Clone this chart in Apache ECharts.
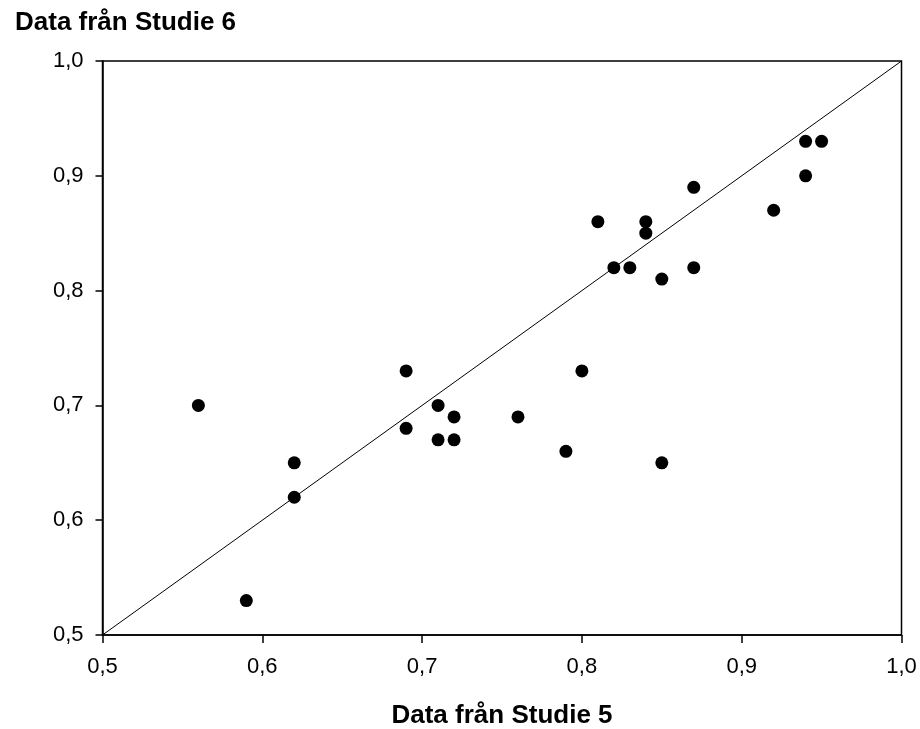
<!DOCTYPE html>
<html>
<head>
<meta charset="utf-8">
<script src="https://cdn.jsdelivr.net/npm/echarts@6/dist/echarts.min.js"></script>
<style>
html,body{margin:0;padding:0;background:#fff;}
#chart{width:920px;height:729px;}
</style>
</head>
<body>
<div id="chart"></div>
<script>
// Studie 5 (x) vs Studie 6 (y)
var studie5=[0.56,0.59,0.62,0.62,0.69,0.69,0.71,0.71,0.72,0.72,0.76,0.79,0.80,0.81,0.82,0.83,0.84,0.84,0.85,0.85,0.87,0.87,0.92,0.94,0.94,0.95];
var studie6=[0.70,0.53,0.65,0.62,0.73,0.68,0.70,0.67,0.69,0.67,0.69,0.66,0.73,0.86,0.82,0.82,0.86,0.85,0.81,0.65,0.89,0.82,0.87,0.93,0.90,0.93];
var diagonal=[[0.5,0.5],[1.0,1.0]];
var xTitle='Data från Studie 5';
var yTitle='Data från Studie 6';

var points=[];
for(var i=0;i<studie5.length;i++){
    points.push([studie5[i],studie6[i]]);
}
function fmt(v){
    return v.toFixed(1).replace('.',',');
}
var font='Liberation Sans, Arial, sans-serif';
var myChart=echarts.init(document.getElementById('chart'));
var option={
    backgroundColor:'#fff',
    animation:false,
    title:{
        text:yTitle,
        left:10,
        top:5,
        textStyle:{
            fontFamily:font,
            fontWeight:'bold',
            fontSize:26,
            color:'#000'
        }
    },
    grid:{
        left:102.5,right:18.5,top:61,bottom:94,
        outerBoundsMode:'none',
        containLabel:false,
        show:true,borderColor:'#000',borderWidth:1.5,backgroundColor:'transparent'
    },
    xAxis:{
        type:'value',
        min:0.5,max:1.0,interval:0.1,
        name:xTitle,
        nameLocation:'middle',
        nameGap:68,
        nameTextStyle:{fontFamily:font,fontWeight:'bold',fontSize:26,color:'#000'},
        splitLine:{show:false},
        axisLine:{show:true,lineStyle:{color:'#000',width:1.5}},
        axisTick:{show:true,inside:false,length:8,lineStyle:{color:'#000',width:1.5}},
        axisLabel:{formatter:fmt,fontFamily:font,fontSize:22,color:'#000',margin:21}
    },
    yAxis:{
        type:'value',
        min:0.5,max:1.0,interval:0.1,
        splitLine:{show:false},
        axisLine:{show:true,lineStyle:{color:'#000',width:1.5}},
        axisTick:{show:true,inside:false,length:7,lineStyle:{color:'#000',width:1.5}},
        axisLabel:{formatter:fmt,fontFamily:font,fontSize:22,color:'#000',margin:19}
    },
    series:[
        {
            type:'line',
            data:diagonal,
            symbol:'none',
            lineStyle:{color:'#000',width:1},
            z:1
        },
        {
            type:'scatter',
            data:points,
            symbol:'circle',
            symbolSize:13,
            itemStyle:{color:'#000',opacity:1},
            z:2
        }
    ]
};
myChart.setOption(option);
</script>
</body>
</html>
